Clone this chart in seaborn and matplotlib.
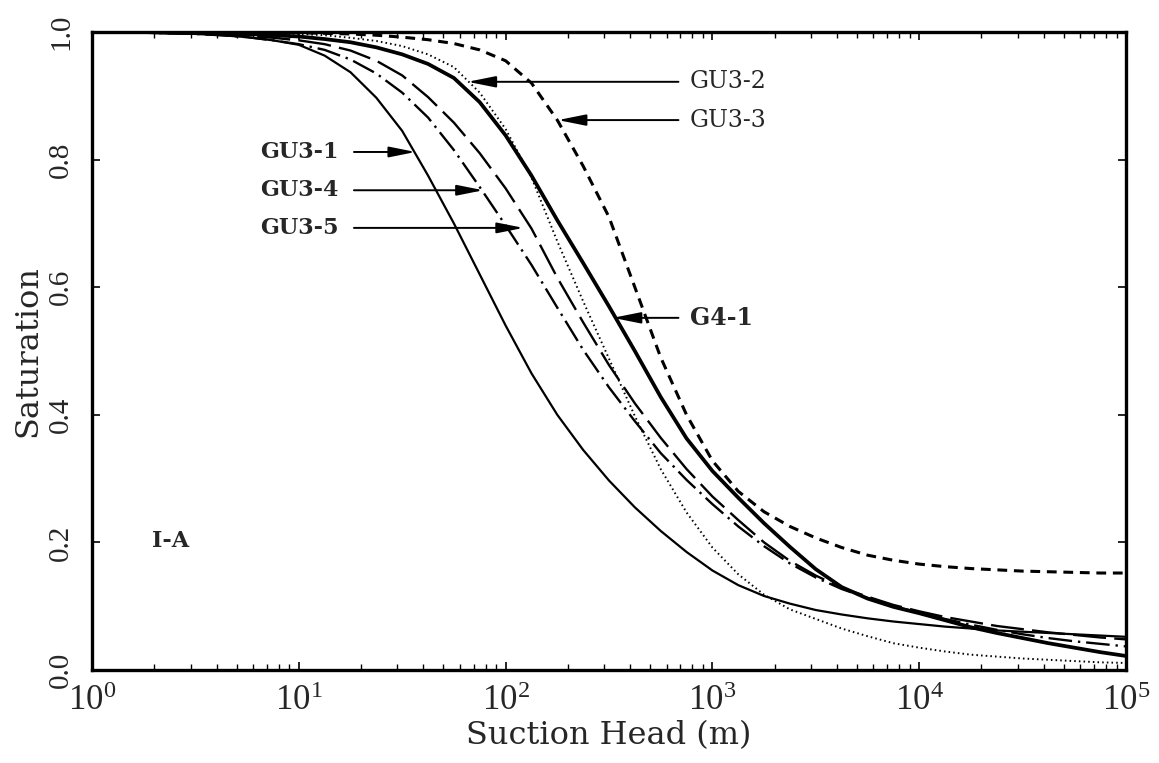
import numpy as np
import pandas as pd
import matplotlib
matplotlib.use("Agg")
import matplotlib.pyplot as plt
from matplotlib.ticker import LogLocator
import seaborn as sns

# ---------------- data (every 1/8 decade) ----------------
suction_head = [1, 1.334, 1.778, 2.371, 3.162, 4.217, 5.623, 7.499,
                10, 13.34, 17.78, 23.71, 31.62, 42.17, 56.23, 74.99,
                100, 133.4, 177.8, 237.1, 316.2, 421.7, 562.3, 749.9,
                1000, 1334, 1778, 2371, 3162, 4217, 5623, 7499,
                10000, 13335, 17783, 23714, 31623, 42170, 56234, 74989, 100000]

gu3_1 = [1.000, 1.000, 0.999, 0.998, 0.997, 0.995, 0.992, 0.987, 0.980, 0.963,
         0.937, 0.897, 0.845, 0.775, 0.700, 0.620, 0.540, 0.465, 0.400, 0.345,
         0.297, 0.255, 0.218, 0.185, 0.156, 0.133, 0.116, 0.104, 0.094, 0.087,
         0.081, 0.076, 0.072, 0.068, 0.065, 0.062, 0.060, 0.058, 0.056, 0.054, 0.052]
gu3_2 = [1.000, 1.000, 1.000, 1.000, 1.000, 0.999, 0.999, 0.998, 0.997, 0.995,
         0.991, 0.986, 0.978, 0.965, 0.945, 0.905, 0.848, 0.772, 0.672, 0.578,
         0.488, 0.398, 0.315, 0.247, 0.192, 0.150, 0.118, 0.095, 0.080, 0.065,
         0.053, 0.042, 0.035, 0.029, 0.024, 0.021, 0.018, 0.016, 0.014, 0.012, 0.011]
gu3_3 = [1.000, 1.000, 1.000, 1.000, 1.000, 1.000, 1.000, 0.999, 0.999, 0.998,
         0.997, 0.995, 0.992, 0.988, 0.982, 0.972, 0.955, 0.920, 0.862, 0.790,
         0.710, 0.600, 0.490, 0.400, 0.328, 0.280, 0.248, 0.225, 0.207, 0.192,
         0.180, 0.172, 0.166, 0.162, 0.159, 0.157, 0.155, 0.154, 0.153, 0.152, 0.152]
gu3_4 = [1.000, 1.000, 0.999, 0.998, 0.997, 0.995, 0.992, 0.987, 0.981, 0.972,
         0.957, 0.935, 0.905, 0.866, 0.815, 0.757, 0.697, 0.635, 0.568, 0.502,
         0.443, 0.390, 0.340, 0.298, 0.260, 0.225, 0.194, 0.167, 0.145, 0.127,
         0.113, 0.100, 0.090, 0.080, 0.071, 0.063, 0.056, 0.050, 0.045, 0.041, 0.037]
gu3_5 = [1.000, 1.000, 0.999, 0.999, 0.998, 0.996, 0.994, 0.991, 0.987, 0.981,
         0.971, 0.955, 0.932, 0.898, 0.858, 0.810, 0.755, 0.692, 0.615, 0.545,
         0.478, 0.418, 0.364, 0.315, 0.272, 0.235, 0.200, 0.171, 0.148, 0.129,
         0.115, 0.102, 0.092, 0.083, 0.076, 0.069, 0.064, 0.059, 0.055, 0.051, 0.048]
g4_1 = [1.000, 1.000, 1.000, 0.999, 0.999, 0.998, 0.997, 0.995, 0.993, 0.989,
        0.984, 0.976, 0.965, 0.950, 0.928, 0.890, 0.838, 0.775, 0.705, 0.638,
        0.570, 0.500, 0.428, 0.363, 0.312, 0.270, 0.230, 0.193, 0.158, 0.130,
        0.112, 0.099, 0.089, 0.078, 0.067, 0.058, 0.050, 0.042, 0.035, 0.028, 0.022]

series_names = ["GU3-1", "GU3-2", "GU3-3", "GU3-4", "GU3-5", "G4-1"]
series_values = [gu3_1, gu3_2, gu3_3, gu3_4, gu3_5, g4_1]

x_ticks = [1, 10, 100, 1000, 10000, 100000]
x_tick_labels = [r"$\mathregular{10^{0}}$", r"$\mathregular{10^{1}}$",
                 r"$\mathregular{10^{2}}$", r"$\mathregular{10^{3}}$",
                 r"$\mathregular{10^{4}}$", r"$\mathregular{10^{5}}$"]
y_ticks = [0.0, 0.2, 0.4, 0.6, 0.8, 1.0]
y_tick_labels = ["0.0", "0.2", "0.4", "0.6", "0.8", "1.0"]

# ---------------- styling ----------------
sns.set_style("ticks")
plt.rcParams["font.family"] = ["DejaVu Serif"]
plt.rcParams["mathtext.fontset"] = "custom"
plt.rcParams["mathtext.rm"] = "Liberation Serif"
plt.rcParams["mathtext.it"] = "Liberation Serif:italic"
plt.rcParams["mathtext.bf"] = "Liberation Serif:bold"

styles = {
    "GU3-1": dict(lw=1.6, linestyle="-"),
    "GU3-2": dict(lw=1.4, linestyle=(0, (0.8, 1.6))),
    "GU3-3": dict(lw=2.2, linestyle=(0, (3.2, 2.2))),
    "GU3-4": dict(lw=1.7, linestyle=(0, (10, 2.5, 1, 2.5))),
    "GU3-5": dict(lw=1.7, linestyle=(0, (14, 3.5))),
    "G4-1": dict(lw=2.7, linestyle="-"),
}

fig = plt.figure(figsize=(11.59, 7.63), dpi=100)
ax = fig.add_axes([0.0794, 0.1219, 0.8921, 0.8361])

for name, vals in zip(series_names, series_values):
    df = pd.DataFrame({"h": suction_head, "S": vals})
    sns.lineplot(data=df, x="h", y="S", ax=ax, color="black", estimator=None,
                 sort=False, **styles[name])

ax.set_xscale("log")
ax.set_xlim(1, 1e5)
ax.set_ylim(0, 1.0)

ax.set_xticks(x_ticks)
ax.set_xticklabels(x_tick_labels, fontfamily="Liberation Serif", fontsize=25)
ax.xaxis.set_minor_locator(LogLocator(base=10, subs=np.arange(2, 10), numticks=50))
ax.set_yticks(y_ticks)
ax.set_yticklabels(y_tick_labels, fontfamily="Liberation Serif", fontsize=21,
                   rotation=90, va="center")

for sp in ax.spines.values():
    sp.set_linewidth(2.4)
    sp.set_color("black")

ax.tick_params(axis="both", which="both", direction="in", top=True, right=True,
               color="black")
ax.tick_params(axis="both", which="major", length=6, width=1.2)
ax.tick_params(axis="x", which="minor", length=4, width=1.0)
ax.tick_params(axis="x", which="major", pad=11)
ax.tick_params(axis="y", which="major", pad=13)

ax.set_xlabel("Suction Head (m)", fontsize=23, labelpad=1)
ax.set_ylabel("Saturation", fontsize=23, labelpad=3)

arrow = dict(arrowstyle="-|>,head_length=1.0,head_width=0.2", color="black", lw=1.4,
             shrinkB=0)

# left-hand labels
ax.annotate("GU3-1", xy=(36.7, 0.812), xytext=(15.5, 0.812), ha="right", va="center",
            fontsize=16, fontweight="bold", arrowprops=dict(arrow, shrinkA=9))
ax.annotate("GU3-4", xy=(78, 0.752), xytext=(15.5, 0.752), ha="right", va="center",
            fontsize=16, fontweight="bold", arrowprops=dict(arrow, shrinkA=9))
ax.annotate("GU3-5", xy=(122, 0.693), xytext=(15.5, 0.693), ha="right", va="center",
            fontsize=16, fontweight="bold", arrowprops=dict(arrow, shrinkA=9))
# right-hand labels
ax.annotate("GU3-2", xy=(65.5, 0.922), xytext=(780, 0.922), ha="left", va="center",
            fontsize=17, arrowprops=dict(arrow, shrinkA=6))
ax.annotate("GU3-3", xy=(179, 0.862), xytext=(780, 0.862), ha="left", va="center",
            fontsize=17, arrowprops=dict(arrow, shrinkA=6))
ax.annotate("G4-1", xy=(330, 0.552), xytext=(780, 0.552), ha="left", va="center",
            fontsize=17, fontweight="bold", arrowprops=dict(arrow, shrinkA=6))

ax.text(1.95, 0.202, "I-A", ha="left", va="center", fontsize=16, fontweight="bold")

fig.savefig("out.png", dpi=100)
